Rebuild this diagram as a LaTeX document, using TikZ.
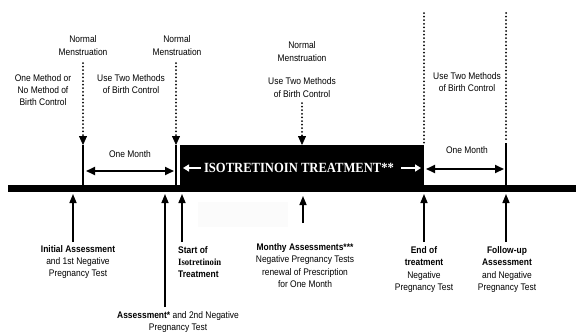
\documentclass[tikz,border=0pt]{standalone}
\usepackage{fontspec}
\setmainfont{Liberation Sans}[FakeStretch=0.88]
\newfontfamily\boxfont{Liberation Serif}[FakeStretch=0.9]
\usetikzlibrary{arrows.meta}
\begin{document}
\begin{tikzpicture}[x=1pt,y=-1pt,
  lbl/.style={align=center,inner sep=0pt,font=\fontsize{9.6}{12.3}\selectfont},
  dots/.style={line width=2pt,dash pattern=on 0pt off 3.6pt,line cap=round},
  tick/.style={line width=2pt},
  uparrow/.style={line width=1.5pt,-{Triangle[length=9pt,width=7pt]}},
  downtip/.style={line width=0.8pt,-{Triangle[length=9pt,width=8pt]}},
  twoway/.style={line width=2pt,{Triangle[length=9pt,width=8pt]}-{Triangle[length=9pt,width=8pt]}},
  whitearrow/.style={white,line width=1.5pt,-{Triangle[length=6pt,width=7pt]}}]
\useasboundingbox (0,0) rectangle (576,333);
% base bar and treatment box
\fill[black] (8,185) rectangle (576,192);
\fill[black] (180,145) rectangle (424,192);
\fill[black!1.5] (198,202) rectangle (288,227);
% coordinates
\coordinate (t1top) at (83,145); \coordinate (t1bot) at (83,186);
\coordinate (t2top) at (176,145); \coordinate (t2bot) at (176,186);
\coordinate (t3top) at (506,143); \coordinate (t3bot) at (506,186);
\coordinate (d1a) at (83,63);  \coordinate (d1b) at (83,136);
\coordinate (d2a) at (176,63); \coordinate (d2b) at (176,136);
\coordinate (d3a) at (302,103); \coordinate (d3b) at (302,136);
\coordinate (d3t) at (302,145);
\coordinate (d4a) at (424,13); \coordinate (d4b) at (424,144);
\coordinate (d5a) at (506,13); \coordinate (d5b) at (506,142);
% ticks
\draw[tick] (t1top) -- (t1bot);
\draw[tick] (t2top) -- (t2bot);
\draw[tick] (t3top) -- (t3bot);
% dotted lines
\draw[dots] (d1a) -- (d1b);
\draw[dots] (d2a) -- (d2b);
\draw[dots] (d3a) -- (d3b);
\draw[dots] (d4a) -- (d4b);
\draw[dots] (d5a) -- (d5b);
\draw[downtip] (d1b) -- (t1top);
\draw[downtip] (d2b) -- (t2top);
\draw[downtip] (d3b) -- (d3t);
% top labels
\node[lbl] (nm1) at (83,45.5) {Normal\\Menstruation};
\node[lbl] (nm2) at (177,45.5) {Normal\\Menstruation};
\node[lbl] (nm3) at (302,51.5) {Normal\\Menstruation};
\node[lbl] (two3) at (302,87.5) {Use Two Methods\\of Birth Control};
\node[lbl] (one) at (43,90) {One Method or\\No Method of\\Birth Control};
\node[lbl] (two1) at (131,84) {Use Two Methods\\of Birth Control};
\node[lbl] (two2) at (467,82) {Use Two Methods\\of Birth Control};
\node[lbl] (m1) at (130,154) {One Month};
\node[lbl] (m2) at (467,150) {One Month};
% one month arrows
\coordinate (a1l) at (86,171); \coordinate (a1r) at (174,171);
\coordinate (a2l) at (426,169); \coordinate (a2r) at (504,169);
\draw[twoway] (a1l) -- (a1r);
\draw[twoway] (a2l) -- (a2r);
% treatment title
\node[inner sep=0pt,text=white,font=\boxfont\bfseries\fontsize{14}{16}\selectfont] (title) at (299,168) {ISOTRETINOIN TREATMENT**};
\coordinate (wl) at (183,168); \coordinate (wr) at (421,168);
\draw[whitearrow] (title.west) ++(-3,0) coordinate (wls) -- (wl);
\draw[whitearrow] (title.east) ++(7,0) coordinate (wrs) -- (wr);
% bottom arrows
\coordinate (b1) at (73,242);  \coordinate (b1t) at (73,194);
\coordinate (b2) at (165,307); \coordinate (b2t) at (165,194);
\coordinate (b3) at (182,242); \coordinate (b3t) at (182,194);
\coordinate (b4) at (303,223); \coordinate (b4t) at (303,196);
\coordinate (b5) at (424,242); \coordinate (b5t) at (424,194);
\coordinate (b6) at (506,242); \coordinate (b6t) at (506,194);
\draw[uparrow] (b1) -- (b1t);
\draw[uparrow] (b2) -- (b2t);
\draw[uparrow] (b3) -- (b3t);
\draw[uparrow] (b4) -- (b4t);
\draw[uparrow] (b5) -- (b5t);
\draw[uparrow] (b6) -- (b6t);
% bottom labels
\node[lbl] (init) at (78,262) {\textbf{Initial Assessment}\\and 1st Negative\\Pregnancy Test};
\node[lbl,anchor=west,align=left] (start) at (178,262) {\textbf{Start of}\\{\boxfont\bfseries Isotretinoin}\\\textbf{Treatment}};
\node[lbl] (assess) at (178,322) {\textbf{Assessment*} and 2nd Negative\\Pregnancy Test};
\node[lbl] (month) at (305,265.5) {\textbf{Monthy Assessments***}\\Negative Pregnancy Tests\\renewal of Prescription\\for One Month};
\node[lbl] (end) at (424,269.5) {\textbf{End of}\\\textbf{treatment}\\Negative\\Pregnancy Test};
\node[lbl] (follow) at (507,269.5) {\textbf{Follow-up}\\\textbf{Assessment}\\and Negative\\Pregnancy Test};
\end{tikzpicture}
\end{document}
